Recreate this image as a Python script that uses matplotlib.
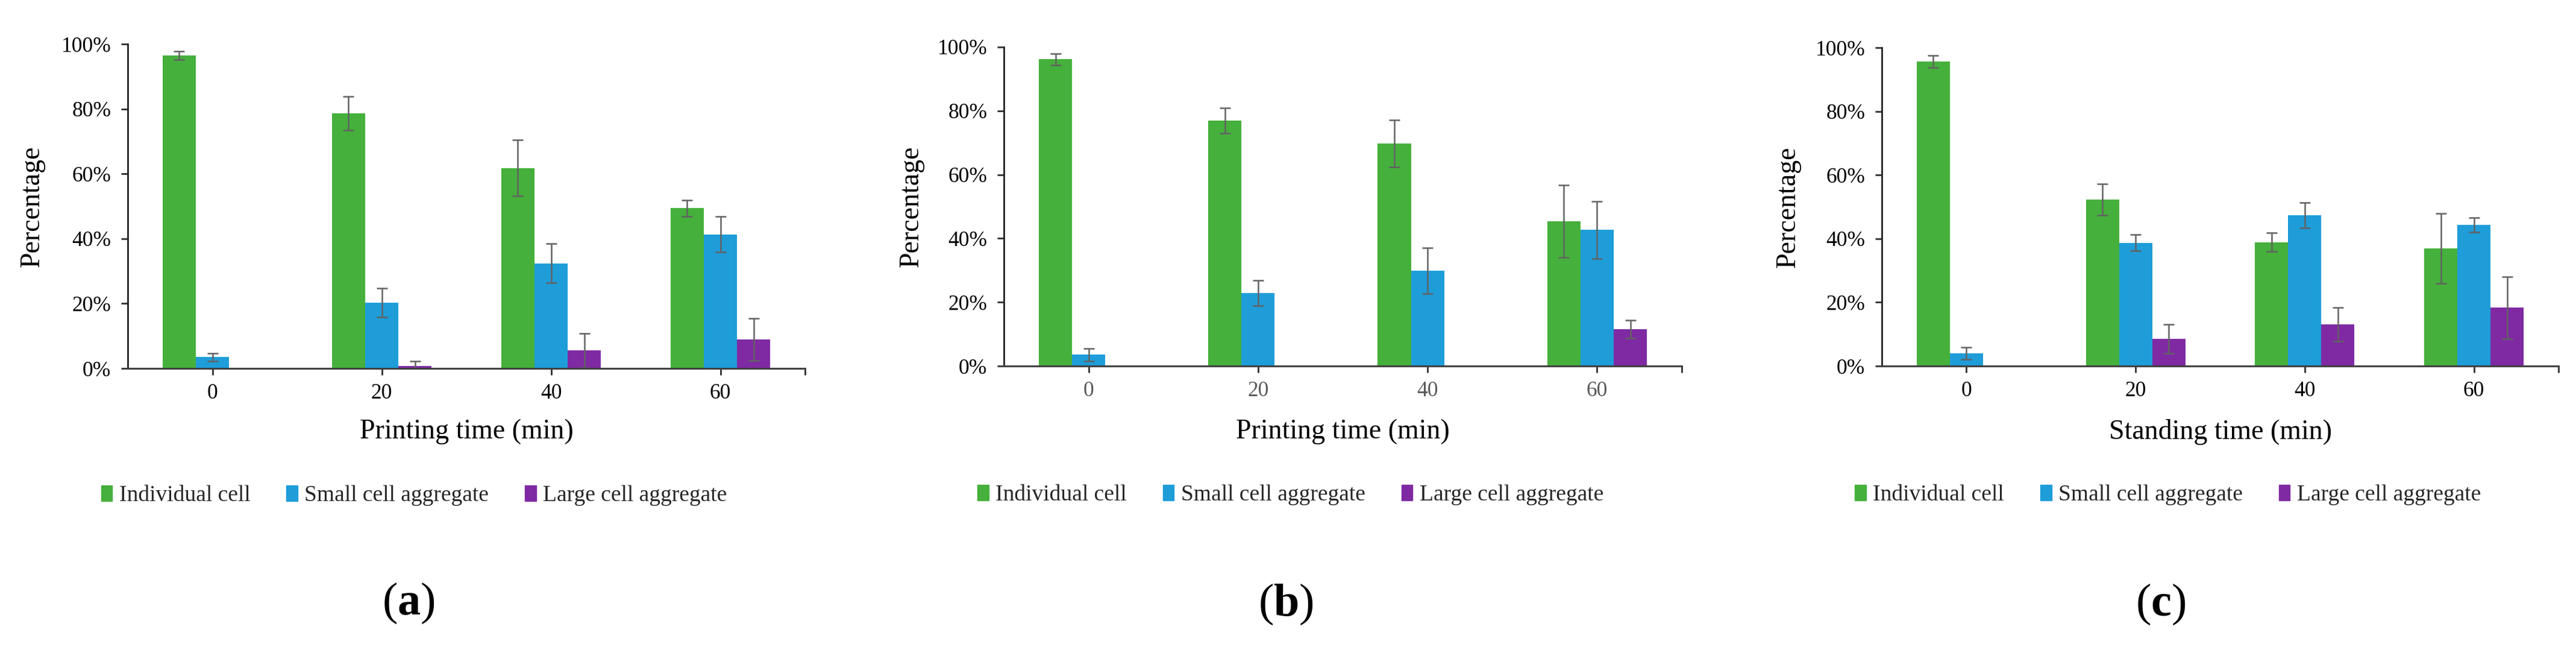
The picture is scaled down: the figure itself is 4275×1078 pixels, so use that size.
import numpy as np
import matplotlib
matplotlib.use("Agg")
import matplotlib.pyplot as plt
from matplotlib.ticker import PercentFormatter
from matplotlib.patches import Patch

plt.rcParams['font.family'] = ['Liberation Serif', 'DejaVu Serif']
plt.rcParams['mathtext.fontset'] = 'custom'
plt.rcParams['mathtext.rm'] = 'Liberation Serif'
plt.rcParams['mathtext.bf'] = 'Liberation Serif:bold'

# categories / series
times = ['0', '20', '40', '60']
series = ['Individual cell', 'Small cell aggregate', 'Large cell aggregate']
colors = ['#45b03b', '#1e9dd9', '#7f2aa3']
nan = np.nan

# (a) printing time
a_individual = [96.4, 78.6, 61.8, 49.4]
a_individual_err = [1.3, 5.2, 8.7, 2.5]
a_small = [3.5, 20.3, 32.4, 41.3]
a_small_err = [1.2, 4.5, 6.0, 5.5]
a_large = [nan, 0.8, 5.5, 9.0]
a_large_err = [nan, 1.5, 5.3, 6.5]

# (b) printing time
b_individual = [96.2, 76.9, 69.7, 45.4]
b_individual_err = [1.8, 4.0, 7.4, 11.3]
b_small = [3.5, 22.9, 29.8, 42.7]
b_small_err = [2.0, 4.0, 7.2, 9.0]
b_large = [nan, nan, nan, 11.5]
b_large_err = [nan, nan, nan, 2.8]

# (c) standing time
c_individual = [95.7, 52.3, 38.9, 37.0]
c_individual_err = [1.9, 4.9, 3.0, 11.0]
c_small = [3.9, 38.7, 47.3, 44.3]
c_small_err = [1.9, 2.5, 4.0, 2.3]
c_large = [nan, 8.5, 13.0, 18.3]
c_large_err = [nan, 4.6, 5.3, 9.7]

xlabels = ['Printing time (min)', 'Printing time (min)', 'Standing time (min)']
panel_tags = ['a', 'b', 'c']

W, H = 4275, 1078
fig = plt.figure(figsize=(W / 100, H / 100), dpi=100)

# axes boxes in pixels: left, right, top, bottom
boxes = [(212, 1336, 73, 611), (1666, 2791, 78, 607), (3123, 4246, 79, 607)]
ylab_x = [53, 1512, 2967]
legend_y = [822, 821, 821]
tag_pos = [(678, 1000), (2134, 1002), (3586, 1002)]

panels = [
    ((a_individual, a_individual_err), (a_small, a_small_err), (a_large, a_large_err)),
    ((b_individual, b_individual_err), (b_small, b_small_err), (b_large, b_large_err)),
    ((c_individual, c_individual_err), (c_small, c_small_err), (c_large, c_large_err)),
]

bw = 0.196
x = np.arange(len(times))

for i, data in enumerate(panels):
    l, r, t, b = boxes[i]
    ax = fig.add_axes([l / W, 1 - b / H, (r - l) / W, (b - t) / H])
    for k, (vals, errs) in enumerate(data):
        ax.bar(x + (k - 1) * bw, vals, bw, color=colors[k], label=series[k],
               yerr=errs, ecolor='#626262',
               error_kw=dict(elinewidth=1.8, capsize=6.5, capthick=1.8))
    ax.set_xlim(-0.5, 3.5)
    ax.set_ylim(0, 100)
    ax.yaxis.set_major_formatter(PercentFormatter(100, decimals=0))
    ax.set_yticks([0, 20, 40, 60, 80, 100])
    ax.set_xticks(list(x) + [3.5])
    ax.set_xticklabels(times + [''])
    for s in ['top', 'right']:
        ax.spines[s].set_visible(False)
    ax.spines['left'].set_color('#202020')
    ax.spines['bottom'].set_color('#404040')
    ax.spines['left'].set_linewidth(2)
    ax.spines['bottom'].set_linewidth(2.2)
    ax.tick_params(axis='both', length=8, width=2, color='#303030', labelsize=25.5)
    ax.tick_params(axis='y', pad=12)
    ax.tick_params(axis='x', pad=10)
    if i == 1:
        ax.tick_params(axis='x', labelcolor='#595959')
    ax.set_ylabel('Percentage', fontsize=33, va='center')
    ax.yaxis.set_label_coords((ylab_x[i] - l) / (r - l), 0.5)
    ax.set_xlabel(xlabels[i], fontsize=33, va='center')
    ax.xaxis.set_label_coords(0.5, (b - 716) / (b - t))

    handles = [Patch(color=c) for c in colors]
    ax.legend(handles, series, loc='center', ncol=3, frameon=False,
              bbox_to_anchor=(0.4226, (b - legend_y[i]) / (b - t)),
              fontsize=27, handlelength=0.5, handleheight=0.7,
              handletextpad=0.3, columnspacing=1.6, borderpad=0,
              labelcolor='#262626')

    tx, ty = tag_pos[i]
    fig.text(tx / W, 1 - ty / H, r'$(\mathbf{%s})$' % panel_tags[i],
             fontsize=55, ha='center', va='center')

fig.savefig('out.png', dpi=100)
